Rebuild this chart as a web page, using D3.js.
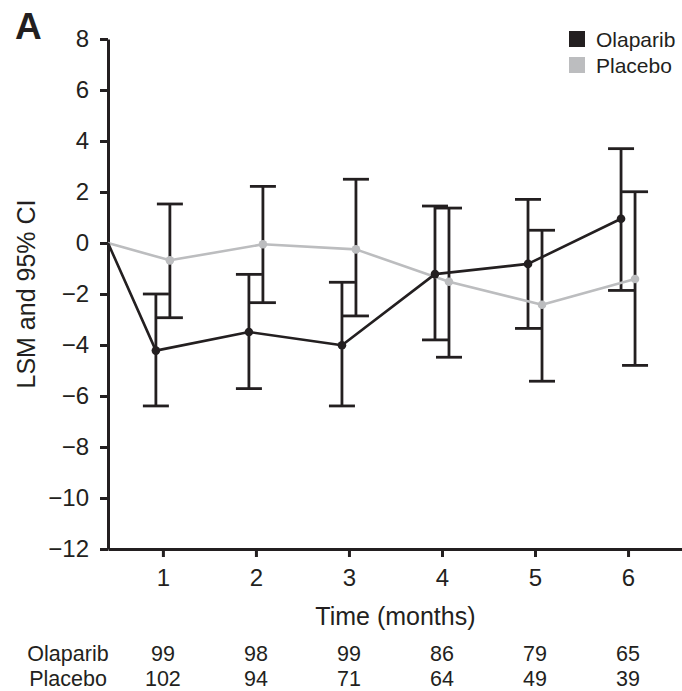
<!DOCTYPE html>
<html><head><meta charset="utf-8">
<script src="https://cdn.jsdelivr.net/npm/d3@7"></script>
<style>
html,body{margin:0;padding:0;background:#fff;}
svg{display:block;font-family:"Liberation Sans",Arial,Helvetica,sans-serif;}
</style></head>
<body>
<svg id="chart" width="682" height="691"></svg>
<script>
const months = [1, 2, 3, 4, 5, 6];
const seriesNames = ["Olaparib", "Placebo"];
const olaparibLSM   = [-4.22, -3.49, -4.01, -1.22, -0.82, 0.95];
const olaparibLower = [-6.39, -5.71, -6.39, -3.80, -3.35, -1.86];
const olaparibUpper = [-2.00, -1.23, -1.54, 1.45, 1.71, 3.70];
const placeboLSM    = [-0.68, -0.05, -0.25, -1.52, -2.42, -1.41];
const placeboLower  = [-2.93, -2.34, -2.86, -4.48, -5.42, -4.80];
const placeboUpper  = [1.53, 2.22, 2.50, 1.37, 0.50, 2.01];
const olaparibN = [99, 98, 99, 86, 79, 65];
const placeboN  = [102, 94, 71, 64, 49, 39];
const baseline = {month: 0, value: 0};
const yTicks = [-12, -10, -8, -6, -4, -2, 0, 2, 4, 6, 8];

const ink = "#231f20", grey = "#bcbdbf";
const colors = {Olaparib: ink, Placebo: grey};

const series = [
  {name: "Olaparib", lsm: olaparibLSM, lo: olaparibLower, hi: olaparibUpper, n: olaparibN},
  {name: "Placebo", lsm: placeboLSM, lo: placeboLower, hi: placeboUpper, n: placeboN}
].map(s => ({...s, pts: months.map((m, i) => ({month: m, value: s.lsm[i], lo: s.lo[i], hi: s.hi[i]}))}));

const svg = d3.select("#chart");
const x = d3.scaleLinear().domain([0.41, 6.58]).range([108, 682]).clamp(true);
const y = d3.scaleLinear().domain([-12, 8]).range([549, 39]);
const off = d3.scalePoint().domain(seriesNames).range([-7, 7]);

// Panel letter
svg.append("text").attr("x", 15).attr("y", 39).attr("font-size", 37).attr("font-weight", "bold")
  .attr("fill", ink).text("A");

// Y axis
const yAxis = svg.append("g").attr("transform", `translate(${x.range()[0]},0)`)
  .call(d3.axisLeft(y).tickValues(yTicks).tickSize(8).tickSizeOuter(0).tickPadding(11));
yAxis.select(".domain").attr("stroke", ink).attr("stroke-width", 3);
yAxis.selectAll(".tick line").attr("stroke", ink).attr("stroke-width", 3);
yAxis.selectAll(".tick text").attr("font-size", 24).attr("fill", ink).attr("font-family", null);

// X axis
const xAxis = svg.append("g").attr("transform", `translate(0,${y.range()[0]})`)
  .call(d3.axisBottom(x).tickValues(months).tickSize(8).tickSizeOuter(0).tickPadding(12).tickFormat(d3.format("d")));
xAxis.select(".domain").attr("stroke", ink).attr("stroke-width", 3);
xAxis.selectAll(".tick line").attr("stroke", ink).attr("stroke-width", 3);
xAxis.selectAll(".tick text").attr("font-size", 24).attr("fill", ink).attr("font-family", null);

// Axis titles
svg.append("text").attr("transform", `translate(35,${(y.range()[0] + y.range()[1]) / 2}) rotate(-90)`)
  .attr("text-anchor", "middle").attr("font-size", 25).attr("fill", ink)
  .text("LSM and 95% CI");
svg.append("text").attr("x", (x(1) + x(6)) / 2).attr("y", 625).attr("text-anchor", "middle")
  .attr("font-size", 25).attr("fill", ink).text("Time (months)");

// Error bars
const capHalf = 13;
series.forEach(s => {
  const g = svg.append("g").attr("stroke", ink).attr("stroke-width", 2.8).attr("fill", "none");
  s.pts.forEach(p => {
    const cx = x(p.month) + off(s.name);
    g.append("line").attr("x1", cx).attr("x2", cx).attr("y1", y(p.hi)).attr("y2", y(p.lo));
    g.append("line").attr("x1", cx - capHalf).attr("x2", cx + capHalf).attr("y1", y(p.hi)).attr("y2", y(p.hi));
    g.append("line").attr("x1", cx - capHalf).attr("x2", cx + capHalf).attr("y1", y(p.lo)).attr("y2", y(p.lo));
  });
});

// Lines and points (placebo first, olaparib on top)
const line = d3.line().x(d => d.month === 0 ? x(0) : x(d.month) + d.o).y(d => y(d.value));
[series[1], series[0]].forEach(s => {
  const data = [baseline, ...s.pts].map(d => ({...d, o: off(s.name)}));
  svg.append("path").datum(data).attr("d", line).attr("fill", "none")
    .attr("stroke", colors[s.name]).attr("stroke-width", 2.6).attr("stroke-linejoin", "round");
  svg.append("g").selectAll("circle").data(s.pts).join("circle")
    .attr("cx", d => x(d.month) + off(s.name)).attr("cy", d => y(d.value)).attr("r", 4.3)
    .attr("fill", colors[s.name]);
});

// Legend
const leg = svg.append("g");
seriesNames.forEach((name, i) => {
  leg.append("rect").attr("x", 569).attr("y", 31 + i * 26).attr("width", 16).attr("height", 16).attr("fill", colors[name]);
  leg.append("text").attr("x", 596).attr("y", 40 + i * 26).attr("dy", "0.35em").attr("font-size", 21)
    .attr("fill", ink).text(name);
});

// Numbers at risk table
series.forEach((s, i) => {
  const ry = 653 + i * 25;
  svg.append("text").attr("x", 68).attr("y", ry).attr("dy", "0.35em").attr("text-anchor", "middle")
    .attr("font-size", 21.5).attr("fill", ink).text(s.name);
  svg.append("g").selectAll("text").data(s.n).join("text")
    .attr("x", (d, j) => x(months[j])).attr("y", ry).attr("dy", "0.35em").attr("text-anchor", "middle")
    .attr("font-size", 21.5).attr("fill", ink).text(d => d);
});
</script>
</body></html>
